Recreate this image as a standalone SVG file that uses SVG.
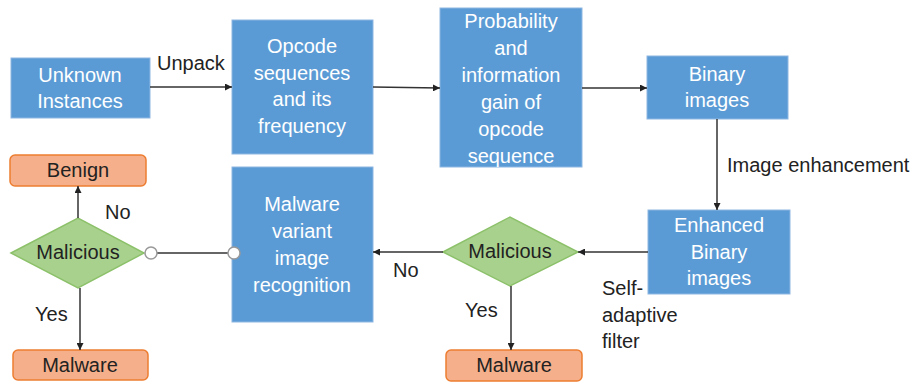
<svg xmlns="http://www.w3.org/2000/svg" width="917" height="384" viewBox="0 0 917 384">
<style>
.box{fill:#5B9BD5;stroke:#8DB6E2;stroke-width:1}
.out{fill:#F5AF8A;stroke:#ED7D31;stroke-width:1.5}
.dia{fill:#A9D18E;stroke:#8CC16A;stroke-width:1.5}
.wt{font-family:"Liberation Sans",Arial,sans-serif;font-size:20px;fill:#fff;text-anchor:middle}
.dk{font-family:"Liberation Sans",Arial,sans-serif;font-size:20px;fill:#222;text-anchor:middle}
.lb{font-family:"Liberation Sans",Arial,sans-serif;font-size:20px;fill:#222}
.ln{stroke:#333;stroke-width:1.5;fill:none}
</style>
<defs>
<marker id="ah" viewBox="0 0 10 10" refX="10" refY="5" markerWidth="7" markerHeight="7" markerUnits="userSpaceOnUse" orient="auto">
<path d="M0,0 L10,5 L0,10 z" fill="#222"/>
</marker>
</defs>
<rect width="917" height="384" fill="#fff"/>
<g id="unknown">
<rect class="box" x="11" y="58" width="139" height="60"/>
<text class="wt" x="80" y="82">Unknown</text>
<text class="wt" x="80" y="108">Instances</text>
</g>
<g id="opcode">
<rect class="box" x="232" y="20" width="141" height="134"/>
<text class="wt" x="302" y="53">Opcode</text>
<text class="wt" x="302" y="80">sequences</text>
<text class="wt" x="302" y="106">and its</text>
<text class="wt" x="302" y="133">frequency</text>
</g>
<g id="probability">
<rect class="box" x="440" y="8" width="142" height="159"/>
<text class="wt" x="511" y="28">Probability</text>
<text class="wt" x="511" y="55">and</text>
<text class="wt" x="511" y="82">information</text>
<text class="wt" x="511" y="109">gain of</text>
<text class="wt" x="511" y="136">opcode</text>
<text class="wt" x="511" y="163">sequence</text>
</g>
<g id="binary">
<rect class="box" x="647" y="56" width="141" height="63"/>
<text class="wt" x="717" y="81">Binary</text>
<text class="wt" x="717" y="107">images</text>
</g>
<g id="enhanced">
<rect class="box" x="648" y="210" width="142" height="84"/>
<text class="wt" x="719" y="232">Enhanced</text>
<text class="wt" x="719" y="259">Binary</text>
<text class="wt" x="719" y="285">images</text>
</g>
<g id="malicious2">
<polygon class="dia" points="443,252 510,217 578,252 510,286"/>
<text class="dk" x="510" y="258">Malicious</text>
</g>
<g id="malware2">
<rect class="out" x="446" y="350" width="136" height="31" rx="5"/>
<text class="dk" x="514" y="372">Malware</text>
</g>
<g id="variant">
<rect class="box" x="232" y="167" width="141" height="155"/>
<text class="wt" x="302" y="211">Malware</text>
<text class="wt" x="302" y="238">variant</text>
<text class="wt" x="302" y="265">image</text>
<text class="wt" x="302" y="292">recognition</text>
</g>
<g id="malicious1">
<polygon class="dia" points="11,253 78,218 144,253 78,288"/>
<text class="dk" x="78" y="259">Malicious</text>
</g>
<g id="benign">
<rect class="out" x="10" y="155" width="136" height="31" rx="5"/>
<text class="dk" x="78" y="177">Benign</text>
</g>
<g id="malware1">
<rect class="out" x="13" y="350" width="135" height="30" rx="5"/>
<text class="dk" x="80" y="372">Malware</text>
</g>
<g id="connectors">
<line class="ln" x1="150" y1="87" x2="232" y2="87" marker-end="url(#ah)"/>
<line class="ln" x1="373" y1="87" x2="440" y2="88" marker-end="url(#ah)"/>
<line class="ln" x1="582" y1="88" x2="647" y2="88" marker-end="url(#ah)"/>
<line class="ln" x1="717" y1="119" x2="717" y2="210" marker-end="url(#ah)"/>
<line class="ln" x1="648" y1="252" x2="578" y2="252" marker-end="url(#ah)"/>
<line class="ln" x1="511" y1="286" x2="511" y2="350" marker-end="url(#ah)"/>
<line class="ln" x1="443" y1="252" x2="373" y2="252" marker-end="url(#ah)"/>
<line class="ln" x1="157" y1="253" x2="228" y2="253"/>
<line class="ln" x1="78" y1="218" x2="78" y2="186" marker-end="url(#ah)"/>
<line class="ln" x1="80" y1="288" x2="80" y2="350" marker-end="url(#ah)"/>
<circle cx="151" cy="253" r="6" fill="#fff" stroke="#999" stroke-width="1.5"/>
<circle cx="234" cy="253" r="6" fill="#fff" stroke="#999" stroke-width="1.5"/>
<text class="lb" x="157" y="70">Unpack</text>
<text class="lb" x="727" y="172">Image enhancement</text>
<text class="lb" x="602" y="295">Self-</text>
<text class="lb" x="602" y="322">adaptive</text>
<text class="lb" x="602" y="348">filter</text>
<text class="lb" x="465" y="317">Yes</text>
<text class="lb" x="393" y="277">No</text>
<text class="lb" x="105" y="219">No</text>
<text class="lb" x="35" y="321">Yes</text>
</g>
</svg>
